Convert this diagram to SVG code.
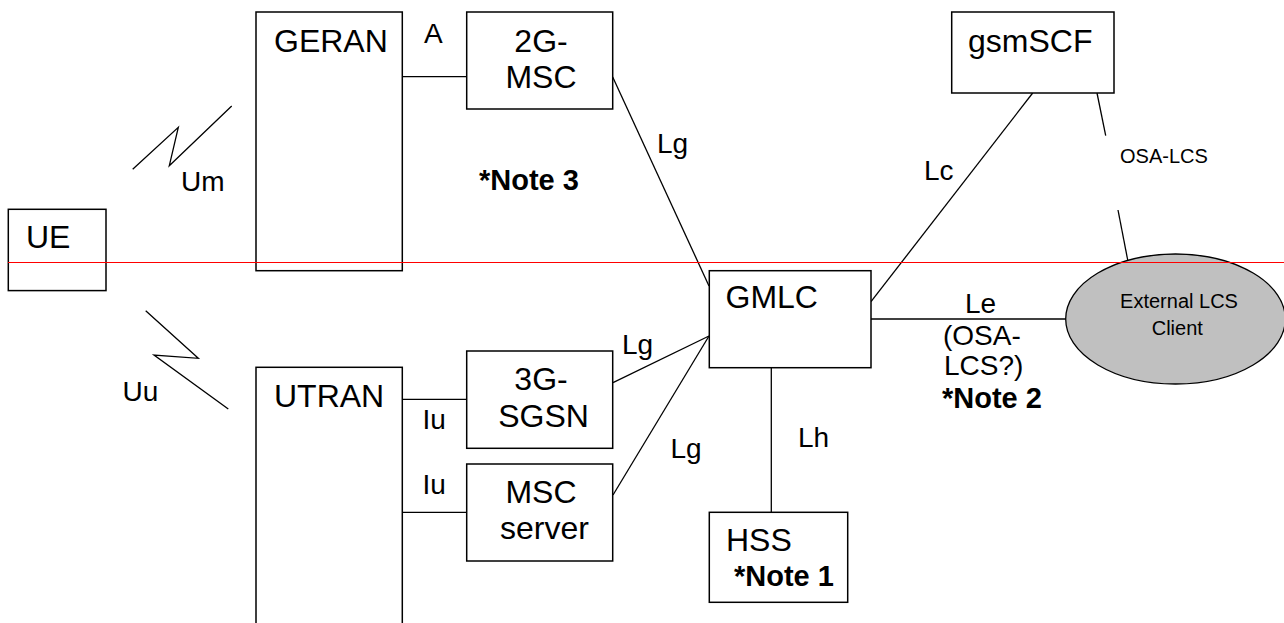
<svg xmlns="http://www.w3.org/2000/svg" width="1284" height="623" viewBox="0 0 1284 623">
<style>
text{font-family:"Liberation Sans",Arial,sans-serif;fill:#000}
.box{fill:#fff;stroke:#000;stroke-width:1.5}
.lbl{font-size:32px}
.lnk{font-size:28px}
.note{font-size:29px;font-weight:bold}
.c{text-anchor:middle}
.ln{stroke:#000;stroke-width:1.3;fill:none}
</style>
<rect width="1284" height="623" fill="#fff"/>
<g id="connectors">
<polyline class="ln" points="132.7,169.3 178.3,127.3 169.3,165.7 231.7,106"/>
<polyline class="ln" points="145.7,310.7 198.3,358.3 154,355 228.3,409"/>
<line class="ln" x1="402" y1="76.7" x2="467" y2="76.7"/>
<line class="ln" x1="612.7" y1="77" x2="709" y2="286"/>
<line class="ln" x1="1032.7" y1="93" x2="871" y2="301.7"/>
<line class="ln" x1="1097" y1="93" x2="1105.7" y2="135.7"/>
<line class="ln" x1="1118" y1="210" x2="1127.7" y2="260"/>
<line class="ln" x1="871" y1="319" x2="1066" y2="319"/>
<line class="ln" x1="402" y1="399.3" x2="467" y2="399.3"/>
<line class="ln" x1="402" y1="512.3" x2="467" y2="512.3"/>
<line class="ln" x1="613" y1="382.7" x2="709" y2="336"/>
<line class="ln" x1="613" y1="495" x2="709" y2="336"/>
<line class="ln" x1="771.3" y1="368" x2="771.3" y2="512.3"/>
</g>
<g id="UE"><rect class="box" x="8.3" y="209.3" width="97.7" height="81.3"/><text class="lbl" x="26" y="248">UE</text></g>
<g id="GERAN"><rect class="box" x="256" y="12" width="146.3" height="258.7"/><text class="lbl" x="274" y="52">GERAN</text></g>
<g id="MSC2G"><rect class="box" x="466.7" y="12" width="146" height="97"/><text class="lbl c" x="541" y="52">2G-</text><text class="lbl c" x="541" y="88">MSC</text></g>
<g id="gsmSCF"><rect class="box" x="951.7" y="12" width="162.3" height="81"/><text class="lbl" x="968" y="52">gsmSCF</text></g>
<g id="UTRAN"><rect class="box" x="256" y="367.3" width="146.3" height="270"/><text class="lbl" x="274" y="406.7">UTRAN</text></g>
<g id="SGSN3G"><rect class="box" x="466.7" y="351" width="146" height="97.3"/><text class="lbl c" x="541" y="390">3G-</text><text class="lbl c" x="543.5" y="426.7">SGSN</text></g>
<g id="MSCserver"><rect class="box" x="466.7" y="464" width="146" height="97"/><text class="lbl c" x="541" y="502.7">MSC</text><text class="lbl c" x="544.5" y="539.3">server</text></g>
<g id="GMLC"><rect class="box" x="709.3" y="270.7" width="161.7" height="97"/><text class="lbl" x="725.5" y="308">GMLC</text></g>
<g id="HSS"><rect class="box" x="709.3" y="512.3" width="138.4" height="90"/><text class="lbl" x="726" y="550.7">HSS</text><text class="note" x="734" y="586">*Note 1</text></g>
<g id="ExternalLCSClient"><ellipse cx="1175.5" cy="319" rx="109.8" ry="65" fill="#c0c0c0" stroke="#000" stroke-width="1.3"/><text class="c" font-size="20" x="1179" y="308">External LCS</text><text class="c" font-size="20" x="1177.3" y="335">Client</text></g>
<g id="labels">
<text class="lnk" x="424" y="42.7">A</text>
<text class="lnk" x="181" y="190.7">Um</text>
<text class="lnk" x="122.5" y="400.7">Uu</text>
<text class="lnk" x="657" y="153">Lg</text>
<text class="note" x="479" y="190">*Note 3</text>
<text class="lnk" x="924" y="180">Lc</text>
<text font-size="20" x="1120" y="163">OSA-LCS</text>
<text class="lnk" x="965" y="312.7">Le</text>
<text class="lnk" x="943" y="345">(OSA-</text>
<text class="lnk" x="944" y="375">LCS?)</text>
<text class="note" x="942" y="408">*Note 2</text>
<text class="lnk" x="422.5" y="429.3">Iu</text>
<text class="lnk" x="422.5" y="494">Iu</text>
<text class="lnk" x="622" y="354.3">Lg</text>
<text class="lnk" x="670.5" y="458.3">Lg</text>
<text class="lnk" x="798" y="447.3">Lh</text>
</g>
<line x1="8" y1="262.5" x2="1284" y2="262.5" stroke="#ff0000" stroke-width="1"/>
</svg>
